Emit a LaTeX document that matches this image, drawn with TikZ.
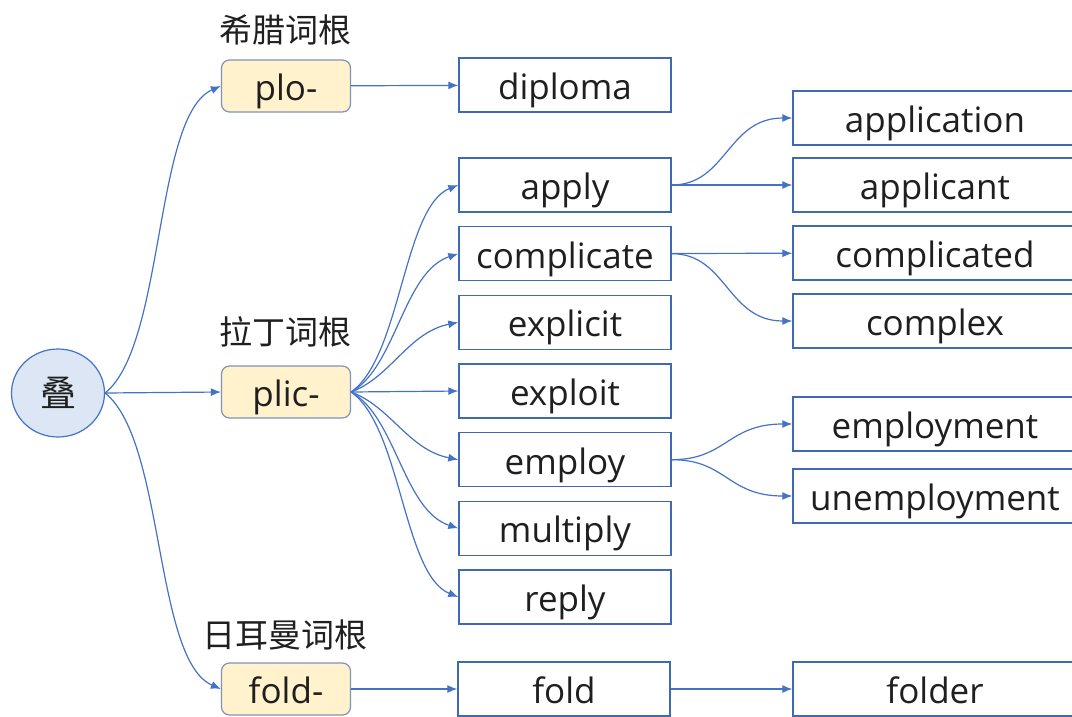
\documentclass[tikz,border=0pt]{standalone}
\usepackage{fontspec}
\setmainfont{Open Sans}
\newfontfamily\cjk{Noto Sans CJK SC}
\usepackage{xcolor}
\usepackage{tikz}
\usetikzlibrary{shapes.geometric, arrows.meta}
\definecolor{linkblue}{HTML}{4472C4}
\definecolor{boxblue}{HTML}{3E69B3}
\definecolor{hubfill}{HTML}{DCE6F4}
\definecolor{stemfill}{HTML}{FFF2CC}
\definecolor{stemline}{HTML}{7F93B8}
\definecolor{ink}{HTML}{1F1F1F}

\begin{document}
\begin{tikzpicture}[x=1pt, y=-1pt, node distance=68.67pt]

\tikzstyle{hub} = [ellipse, minimum width=93pt, minimum height=88pt, fill=hubfill, draw=linkblue, line width=1.2pt, text=ink, font={\cjk\fontsize{36}{40}\selectfont}]
\tikzstyle{stem} = [rectangle, rounded corners=8pt, minimum width=129pt, minimum height=52pt, text height=29pt, text depth=0pt, fill=stemfill, draw=stemline, line width=1.2pt, text=ink, font=\fontsize{35}{40}\selectfont]
\tikzstyle{word} = [rectangle, minimum width=212pt, minimum height=54pt, text height=29pt, text depth=0pt, draw=boxblue, line width=1.4pt, text=ink, font=\fontsize{35}{40}\selectfont]
\tikzstyle{longword} = [word, minimum width=284pt]
\tikzstyle{tag} = [text=ink, font={\cjk\fontsize{33}{38}\selectfont}]
\tikzstyle{arrow} = [line width=1.2pt, draw=linkblue, -{Latex[length=10pt,width=8pt]}]

\useasboundingbox (0,0) rectangle (1072,716);

\node (root) [hub] at (58,393) {叠};
\node (plo) [stem] at (286,86) {plo-};
\node (plic) [stem] at (286,392) {plic-};
\node (foldroot) [stem] at (286,689) {fold-};
\node (greek) [tag] at (285,30) {希腊词根};
\node (latin) [tag] at (285,332) {拉丁词根};
\node (german) [tag] at (285,635) {日耳曼词根};

\node (diploma) [word] at (565,85) {diploma};
\node (apply) [word] at (565,185) {apply};
\node (complicate) [word, below of=apply] {complicate};
\node (explicit) [word, below of=complicate] {explicit};
\node (exploit) [word, below of=explicit] {exploit};
\node (employ) [word, below of=exploit] {employ};
\node (multiply) [word, below of=employ] {multiply};
\node (reply) [word, below of=multiply] {reply};
\node (fold) [word] at (564,689) {fold};

\node (application) [longword] at (935,118) {application};
\node (applicant) [longword] at (935,185) {applicant};
\node (complicated) [longword] at (935,253) {complicated};
\node (complex) [longword] at (935,321) {complex};
\node (employment) [longword] at (935,424) {employment};
\node (unemployment) [longword] at (935,496) {unemployment};
\node (folder) [longword] at (935,689) {folder};

\draw [arrow] (root.east) .. controls +(60,-48) and +(-67,29) .. (plo.west);
\draw [arrow] (root.east) -- (plic.west);
\draw [arrow] (root.east) .. controls +(60,48) and +(-67,-29) .. (foldroot.west);

\draw [arrow] (plo) -- (diploma);
\draw [arrow] (plic.east) .. controls +(50,-35) and +(-55,22) .. (apply.west);
\draw [arrow] (plic.east) .. controls +(45,-25) and +(-55,18) .. (complicate.west);
\draw [arrow] (plic.east) .. controls +(40,-15) and +(-50,10) .. (explicit.west);
\draw [arrow] (plic.east) -- (exploit.west);
\draw [arrow] (plic.east) .. controls +(40,15) and +(-50,-10) .. (employ.west);
\draw [arrow] (plic.east) .. controls +(45,25) and +(-55,-18) .. (multiply.west);
\draw [arrow] (plic.east) .. controls +(50,35) and +(-55,-22) .. (reply.west);
\draw [arrow] (foldroot) -- (fold);

\draw [arrow] (apply.east) .. controls +(55,0) and +(-65,0) .. (application.west);
\draw [arrow] (apply) -- (applicant);
\draw [arrow] (complicate) -- (complicated);
\draw [arrow] (complicate.east) .. controls +(55,0) and +(-65,0) .. (complex.west);
\draw [arrow] (employ.east) .. controls +(55,0) and +(-65,0) .. (employment.west);
\draw [arrow] (employ.east) .. controls +(55,0) and +(-65,0) .. (unemployment.west);
\draw [arrow] (fold) -- (folder);

\end{tikzpicture}
\end{document}
